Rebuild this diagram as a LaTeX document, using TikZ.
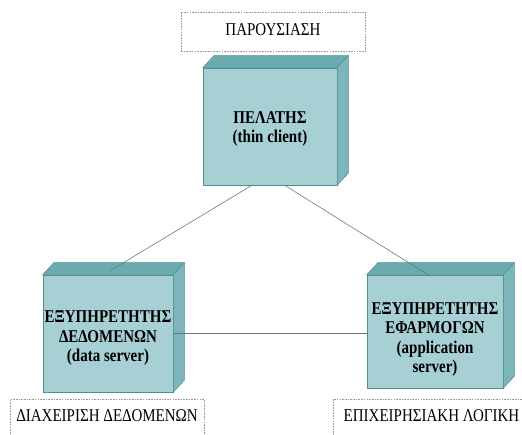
\documentclass[tikz,border=0pt]{standalone}
\usepackage{fontspec}
\usepackage{graphicx}
\setmainfont{Liberation Serif}
\usetikzlibrary{calc}
\definecolor{frontcol}{HTML}{A7D0D4}
\definecolor{topcol}{HTML}{6AABB0}
\definecolor{sidecol}{HTML}{7DB5BA}
\definecolor{edgecol}{HTML}{4E8E94}
\definecolor{linkcol}{HTML}{6A7A7C}
% text set slightly taller than wide, optionally lowered (box size kept)
\newcommand{\tallt}[2][0pt]{\raisebox{-#1}[\height][\depth]{\scalebox{1}[1.2]{\begin{tabular}{@{}c@{}}#2\end{tabular}}}}
\begin{document}
\begin{tikzpicture}[x=1pt,y=-1pt,
  nodebox/.style={draw=edgecol,line width=0.5pt,fill=frontcol,inner sep=0pt,
    align=center,font=\fontsize{15}{16.2}\selectfont\bfseries,text=black},
  tierbox/.style={draw=gray!80,dash pattern=on 1.6pt off 1.1pt,line width=0.6pt,
    inner sep=0pt,font=\fontsize{15}{16}\selectfont,text=black},
  link/.style={draw=linkcol,line width=0.6pt}]
\useasboundingbox (0,0) rectangle (522,435);
\clip (0,0) rectangle (522,435);
% three-dimensional node: front face plus top and side faces
\newcommand{\cubefaces}[1]{%
  \filldraw[fill=topcol,draw=edgecol,line width=0.5pt]
    (#1.north west) -- ++(11,-12) -- ($(#1.north east)+(11,-12)$) -- (#1.north east) -- cycle;
  \filldraw[fill=sidecol,draw=edgecol,line width=0.5pt]
    (#1.north east) -- ++(11,-12) -- ($(#1.south east)+(11,-12)$) -- (#1.south east) -- cycle;}
% tier labels
\node[tierbox,minimum width=184,minimum height=39] (pres) at (273,31.5) {\tallt{ΠΑΡΟΥΣΙΑΣΗ}};
\node[tierbox,minimum width=194,minimum height=38] (datat) at (107,418) {\tallt{ΔΙΑΧΕΙΡΙΣΗ ΔΕΔΟΜΕΝΩΝ}};
\node[tierbox,minimum width=197,minimum height=38] (logic) at (431.5,418) {\tallt{ΕΠΙΧΕΙΡΗΣΙΑΚΗ ΛΟΓΙΚΗ}};
% nodes
\node[nodebox,minimum width=134,minimum height=117] (cl) at (270,126.5) {\tallt[2.5pt]{ΠΕΛΑΤΗΣ\\(thin client)}};
\cubefaces{cl}
\node[nodebox,minimum width=130,minimum height=117] (ds) at (108,333.5) {\tallt[5pt]{ΕΞΥΠΗΡΕΤΗΤΗΣ\\ΔΕΔΟΜΕΝΩΝ\\(data server)}};
\cubefaces{ds}
\node[nodebox,minimum width=136,minimum height=113] (as) at (435,331.5) {\tallt[8pt]{ΕΞΥΠΗΡΕΤΗΤΗΣ\\ΕΦΑΡΜΟΓΩΝ\\(application\\server)}};
\cubefaces{as}
% connectors
\coordinate (dsin) at ($(ds.north)+(2,-4)$);
\coordinate (asin) at ($(as.north)+(-7,0)$);
\draw[link] (cl.253.8) -- (dsin);
\draw[link] (cl.284.4) -- (asin);
\draw[link] (ds.east) -- (ds.east -| as.west);
\end{tikzpicture}
\end{document}
